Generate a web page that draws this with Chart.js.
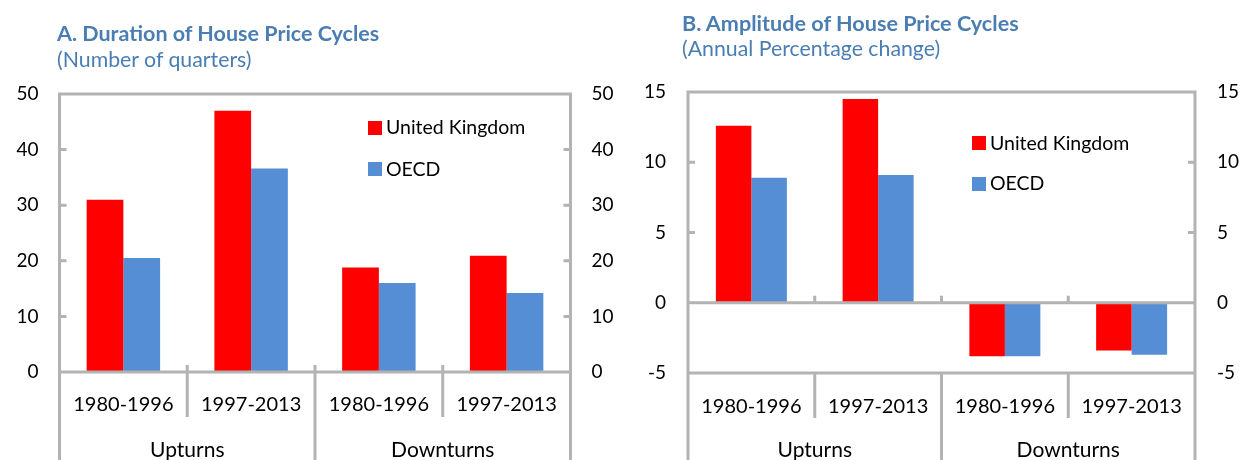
<!DOCTYPE html>
<html>
<head>
<meta charset="utf-8">
<script src="https://cdn.jsdelivr.net/npm/chart.js@4.4.1/dist/chart.umd.min.js"></script>
<style>
  html, body { margin:0; padding:0; background:#fff; }
  #wrap { position:relative; width:1245px; height:460px; overflow:hidden; font-family: Lato, "Open Sans", sans-serif; }
  canvas { position:absolute; top:0; }
  .t { position:absolute; line-height:1; white-space:nowrap; color:#4A7EB3; }
  .tb { font-weight:700; }
  .lg { position:absolute; line-height:1; white-space:nowrap; color:#000; }
  .sw { position:absolute; }
</style>
</head>
<body>
<div id="wrap">
  <canvas id="cA" width="622" height="460" style="left:0"></canvas>
  <canvas id="cB" width="623" height="460" style="left:622px"></canvas>

  <div class="t tb" style="left:57px; top:22.6px; font-size:21.5px;">A. Duration of House Price Cycles</div>
  <div class="t" style="left:57px; top:49.4px; font-size:21.3px;">(Number of quarters)</div>
  <div class="t tb" style="left:682px; top:12.6px; font-size:21.6px;">B. Amplitude of House Price Cycles</div>
  <div class="t" style="left:682px; top:38.4px; font-size:21.3px;">(Annual Percentage change)</div>

  <div class="sw" style="left:368px; top:121px; width:14px; height:14px; background:#FF0000"></div>
  <div class="lg" style="left:386px; top:117px; font-size:19.5px;">United Kingdom</div>
  <div class="sw" style="left:368px; top:162px; width:14px; height:14px; background:#558ED5"></div>
  <div class="lg" style="left:386px; top:158.7px; font-size:19.5px;">OECD</div>

  <div class="sw" style="left:972px; top:136px; width:14px; height:14px; background:#FF0000"></div>
  <div class="lg" style="left:990px; top:132.7px; font-size:19.5px;">United Kingdom</div>
  <div class="sw" style="left:972px; top:177px; width:14px; height:14px; background:#558ED5"></div>
  <div class="lg" style="left:990px; top:173.4px; font-size:19.5px;">OECD</div>
</div>
<script>
// ---------- DATA ----------
const categories = ['1980-1996', '1997-2013', '1980-1996', '1997-2013'];
const groups = ['Upturns', 'Downturns'];
const seriesNames = ['United Kingdom', 'OECD'];
const durationUK   = [31.0, 47.0, 18.8, 20.9];
const durationOECD = [20.5, 36.6, 16.0, 14.2];
const amplitudeUK   = [12.6, 14.5, -3.8, -3.4];
const amplitudeOECD = [8.9, 9.1, -3.8, -3.7];
const durationTicks  = [0, 10, 20, 30, 40, 50];
const amplitudeTicks = [-5, 0, 5, 10, 15];

// ---------- STYLE ----------
const RED = '#FF0000';
const BLUE = '#558ED5';
const FRAME = '#B3B3B3';
const FONT = 'Lato';

Chart.defaults.font.family = FONT;
Chart.defaults.color = '#000';

const framePlugin = {
  id: 'frame',
  afterDatasetsDraw(chart) {
    const { ctx, chartArea: { left, right, top, bottom }, scales: { x, y } } = chart;
    const H = chart.height;
    const z = y.getPixelForValue(0);
    ctx.save();
    ctx.strokeStyle = FRAME;
    ctx.lineWidth = 3;
    ctx.lineJoin = 'miter';
    ctx.lineCap = 'butt';
    ctx.beginPath();
    ctx.moveTo(left, H + 2); ctx.lineTo(left, top); ctx.lineTo(right, top); ctx.lineTo(right, H + 2);
    ctx.moveTo(left, bottom); ctx.lineTo(right, bottom);
    ctx.moveTo(left, z); ctx.lineTo(right, z);
    y.ticks.forEach(t => {
      const py = y.getPixelForValue(t.value);
      ctx.moveTo(left, py); ctx.lineTo(left + 7, py);
      ctx.moveTo(right, py); ctx.lineTo(right - 7, py);
    });
    const n = categories.length;
    for (let i = 1; i < n; i++) {
      const px = (x.getPixelForValue(i - 1) + x.getPixelForValue(i)) / 2;
      const isLong = (i % 2 === 0);
      ctx.moveTo(px, z - 7); ctx.lineTo(px, z);
      ctx.moveTo(px, bottom); ctx.lineTo(px, isLong ? H + 2 : bottom + 45);
    }
    ctx.stroke();
    ctx.fillStyle = '#000';
    ctx.font = '21px ' + FONT;
    ctx.textAlign = 'center';
    ctx.textBaseline = 'middle';
    groups.forEach((g, gi) => {
      const cx = (x.getPixelForValue(2 * gi) + x.getPixelForValue(2 * gi + 1)) / 2;
      ctx.fillText(g, cx, 450);
    });
    ctx.restore();
  }
};

function makeChart(id, uk, oecd, ticks, cfg) {
  const tickOpts = {
    stepSize: ticks[1] - ticks[0],
    font: { size: 19 },
    color: '#000'
  };
  return new Chart(document.getElementById(id), {
    type: 'bar',
    data: {
      labels: categories,
      datasets: [
        { label: seriesNames[0], data: uk, backgroundColor: RED, borderWidth: 0 },
        { label: seriesNames[1], data: oecd, backgroundColor: BLUE, borderWidth: 0 }
      ]
    },
    options: {
      responsive: false,
      animation: false,
      devicePixelRatio: 1,
      categoryPercentage: cfg.catPct,
      barPercentage: 1.0,
      layout: { padding: { top: cfg.top, left: 0, right: 0, bottom: 0 } },
      plugins: { legend: { display: false }, tooltip: { enabled: false }, title: { display: false } },
      scales: {
        x: {
          grid: { display: false, drawTicks: false },
          border: { display: false },
          ticks: { font: { size: 20 }, color: '#000', padding: cfg.xPad, maxRotation: 0, autoSkip: false },
          afterFit(s) { s.height = cfg.xH; }
        },
        y: {
          position: 'left',
          min: ticks[0], max: ticks[ticks.length - 1],
          grid: { display: false, drawTicks: false },
          border: { display: false },
          ticks: Object.assign({ padding: cfg.lPad }, tickOpts),
          afterFit(s) { s.width = cfg.leftW; }
        },
        y2: {
          position: 'right',
          min: ticks[0], max: ticks[ticks.length - 1],
          grid: { display: false, drawTicks: false },
          border: { display: false },
          ticks: Object.assign({ padding: cfg.rPad }, tickOpts),
          afterFit(s) { s.width = cfg.rightW; }
        }
      }
    },
    plugins: [framePlugin]
  });
}

makeChart('cA', durationUK, durationOECD, durationTicks,
  { catPct: 0.575, top: 94, xH: 88, xPad: 21, lPad: 21, rPad: 21, leftW: 59.5, rightW: 51.5 });
makeChart('cB', amplitudeUK, amplitudeOECD, amplitudeTicks,
  { catPct: 0.56, top: 92, xH: 87, xPad: 22, lPad: 22, rPad: 22, leftW: 66, rightW: 50 });
</script>
</body>
</html>
